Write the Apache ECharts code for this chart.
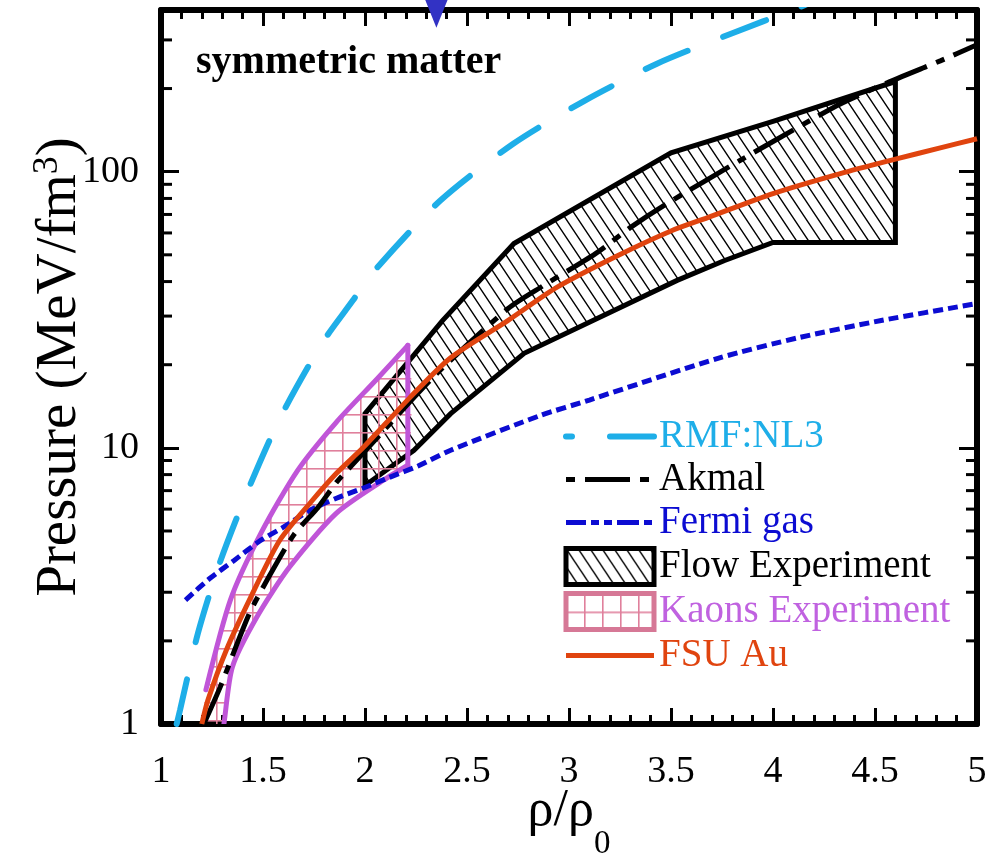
<!DOCTYPE html>
<html>
<head>
<meta charset="utf-8">
<script src="https://cdn.jsdelivr.net/npm/echarts@6/dist/echarts.min.js"></script>
<style>
  html, body { margin: 0; padding: 0; background: #fff; }
  #chart { width: 986px; height: 856px; }
</style>
</head>
<body>
<div id="chart"></div>
<script>
// Pressure of symmetric nuclear matter vs. density (rho / rho0), MeV/fm^3

// x tick labels (bottom axis)
const xTicks = [1, 1.5, 2, 2.5, 3, 3.5, 4, 4.5, 5];
// y tick labels (log axis) and minor tick values (2..9 per decade)
const yTicks = [1, 10, 100];
const yMinorTicks = [2, 3, 4, 5, 6, 7, 8, 9, 20, 30, 40, 50, 60, 70, 80, 90, 200, 300];

// RMF:NL3
const nl3 = [[1.077, 1.0], [1.093, 1.12], [1.181, 2.13], [1.289, 3.85], [1.426, 7.02], [1.583, 12.8],
  [1.789, 23.9], [1.941, 34.2], [2.034, 42.8], [2.368, 78.5], [2.725, 126], [3.078, 181],
  [3.431, 246], [3.794, 316], [4.108, 388], [4.25, 430]];
// Akmal
const akmal = [[1.21, 1.0], [1.29, 1.36], [1.43, 2.48], [1.52, 3.32], [1.65, 4.83], [1.77, 6.09],
  [1.86, 7.5], [1.99, 9.55], [2.35, 18.5], [2.70, 31.9], [2.87, 38.5], [3.13, 50.5], [3.30, 62.7],
  [3.48, 76.6], [3.84, 110], [4.20, 156], [4.33, 176], [4.56, 210], [4.82, 252], [5.0, 288]];
// Fermi gas
const fermi = [[1.12, 2.81], [1.24, 3.37], [1.36, 3.92], [1.49, 4.63], [1.60, 5.16], [1.73, 5.94],
  [1.86, 6.57], [1.99, 7.14], [2.12, 7.82], [2.26, 8.6], [2.42, 9.8], [2.86, 13.1], [3.10, 14.9],
  [3.73, 21.1], [4.13, 25.1], [4.53, 28.9], [5.0, 33.3]];
// FSU Au
const fsu = [[1.20, 1.0], [1.23, 1.22], [1.32, 1.85], [1.44, 2.88], [1.58, 4.6], [1.73, 6.3],
  [1.86, 8.09], [1.99, 10.0], [2.22, 15.2], [2.42, 21.2], [2.70, 28.9], [2.94, 38.1], [3.24, 49.7],
  [3.50, 61], [3.68, 68.2], [4.0, 83.3], [4.33, 98.4], [4.60, 111], [4.82, 122], [5.0, 131.6]];
// Flow experiment band: upper edge (left to right), lower edge (right to left)
const flowUpper = [[2.0, 13.3], [2.38, 28.9], [2.73, 54.9], [3.5, 117], [4.0, 152], [4.6, 212]];
const flowLower = [[4.6, 55.4], [4.0, 55.4], [3.76, 47.6], [3.53, 40.4], [2.78, 22.0], [2.42, 13.3],
  [2.24, 9.8], [2.0, 7.31]];
// Kaons experiment band: upper edge (left to right), lower edge (right to left)
const kaonsUpper = [[1.22, 1.33], [1.34, 2.81], [1.49, 4.91], [1.67, 8.29], [1.86, 12.4],
  [2.06, 17.8], [2.21, 23.5]];
const kaonsLower = [[2.21, 8.65], [2.09, 7.63], [1.86, 5.80], [1.63, 3.70], [1.47, 2.44],
  [1.35, 1.61], [1.31, 1.02], [1.30, 0.9]];
const kaonsClose = [[1.22, 0.9]];
// marker on the top axis
const marker = [[2.35, 376]];

const serif = 'Liberation Serif';
const C = {
  nl3: '#1eaee8', akmal: '#000000', fermi: '#0c0cd2', fsu: '#e0440f',
  kaonLine: '#c055d8', kaonGrid: '#e0809c', kaonBox: '#d67896', kaonText: '#c062e0',
  marker: '#3232c4'
};
const LS = {
  nl3: { color: C.nl3, width: 6, type: [46, 38], cap: 'round' },
  akmal: { color: '#000', width: 5, type: [45, 10, 9, 10] },
  fermi: { color: C.fermi, width: 5, type: [10, 5] },
  fsu: { color: C.fsu, width: 5 }
};
const SMOOTH = 0.25;

function hatchPattern() {
  const c = document.createElement('canvas');
  const W = 12, H = 18;
  c.width = W; c.height = H;
  const g = c.getContext('2d');
  g.strokeStyle = '#000';
  g.lineWidth = 1.4;
  g.beginPath();
  for (let k = -1; k <= 1; k++) {
    g.moveTo(k * W - W, -H);
    g.lineTo(k * W + 2 * W, 2 * H);
  }
  g.stroke();
  return { image: c, repeat: 'repeat' };
}
function gridPattern(color) {
  const c = document.createElement('canvas');
  const S = 18;
  c.width = S; c.height = S;
  const g = c.getContext('2d');
  g.fillStyle = color;
  g.fillRect(0, 0, S, 1.6);
  g.fillRect(0, 0, 1.6, S);
  return { image: c, repeat: 'repeat' };
}
const hatch = hatchPattern();
const grid = gridPattern(C.kaonGrid);

// Flow band: straight-edged closed outline
function flowRenderer(params, api) {
  if (params.dataIndex !== 0) return null;
  const pts = flowUpper.concat(flowLower).map(p => api.coord(p));
  return {
    type: 'group',
    children: [
      { type: 'polygon', shape: { points: pts }, style: { fill: hatch, stroke: null } },
      { type: 'polygon', shape: { points: pts },
        style: { fill: null, stroke: '#000', lineWidth: 5, lineJoin: 'miter' } }
    ]
  };
}
// Kaons band: curved upper/lower edges joined by a vertical right edge, open at the bottom left
function kaonsRenderer(params, api) {
  if (params.dataIndex !== 0) return null;
  const up = kaonsUpper.map(p => api.coord(p));
  const lo = kaonsLower.map(p => api.coord(p));
  const fillPts = up.concat(lo, kaonsClose.map(p => api.coord(p)));
  const st = { fill: null, stroke: C.kaonLine, lineWidth: 5, lineCap: 'round', lineJoin: 'round' };
  return {
    type: 'group',
    children: [
      { type: 'polygon', shape: { points: fillPts, smooth: SMOOTH }, style: { fill: grid, stroke: null } },
      { type: 'polyline', shape: { points: up, smooth: SMOOTH }, style: st },
      { type: 'polyline', shape: { points: [up[up.length - 1], lo[0]] }, style: st },
      { type: 'polyline', shape: { points: lo, smooth: SMOOTH }, style: st }
    ]
  };
}

function minorTickRenderer(params, api) {
  const p = api.coord([1, api.value(1)]);
  const cs = params.coordSys;
  const st = { stroke: '#000', lineWidth: 3 };
  return {
    type: 'group',
    children: [
      { type: 'line', shape: { x1: cs.x, y1: p[1], x2: cs.x + 11, y2: p[1] }, style: st },
      { type: 'line', shape: { x1: cs.x + cs.width - 11, y1: p[1], x2: cs.x + cs.width, y2: p[1] }, style: st }
    ]
  };
}

const xCommon = {
  type: 'value', min: 1, max: 5, interval: 0.5,
  axisLine: { show: true, onZero: false, lineStyle: { color: '#000', width: 6 } },
  axisTick: { show: true, inside: true, length: 16, lineStyle: { color: '#000', width: 3 } },
  minorTick: { show: true, splitNumber: 5, length: 9, lineStyle: { color: '#000', width: 3 } },
  splitLine: { show: false }, minorSplitLine: { show: false }
};
const yCommon = {
  type: 'log', logBase: 10, min: 1, max: 385,
  axisLine: { show: true, onZero: false, lineStyle: { color: '#000', width: 6 } },
  axisTick: { show: true, inside: true, length: 18, lineStyle: { color: '#000', width: 3 } },
  splitLine: { show: false }
};

const legendText = (color) => ({ color: color, fontFamily: serif, fontSize: 39 });
const hiddenSymbol = { opacity: 0, borderWidth: 0 };

const chart = echarts.init(document.getElementById('chart'), null, { renderer: 'canvas' });
chart.setOption({
  animation: false,
  backgroundColor: '#fff',
  textStyle: { fontFamily: serif },
  grid: { left: 161, right: 9, top: 10, bottom: 132, containLabel: false, outerBoundsMode: 'none' },
  title: {
    text: 'symmetric matter', left: 191, top: 38,
    textStyle: { fontFamily: serif, fontWeight: 'bold', fontSize: 40, color: '#000' }
  },
  legend: {
    orient: 'vertical', left: 563, top: 417, padding: 0,
    itemWidth: 88, itemHeight: 36, itemGap: 4, selectedMode: false,
    textStyle: legendText('#000'),
    data: [
      { name: 'RMF:NL3', textStyle: legendText(C.nl3),
        lineStyle: Object.assign({}, LS.nl3, { dashOffset: 40 }), itemStyle: hiddenSymbol },
      { name: 'Akmal', textStyle: legendText('#000'),
        lineStyle: Object.assign({}, LS.akmal, { dashOffset: 55 }), itemStyle: hiddenSymbol },
      { name: 'Fermi gas', textStyle: legendText(C.fermi),
        lineStyle: Object.assign({}, LS.fermi, { type: [22, 5, 8, 5, 8, 5] }), itemStyle: hiddenSymbol },
      { name: 'Flow Experiment', icon: 'rect', textStyle: legendText('#000'),
        itemStyle: { color: hatch, borderColor: '#000', borderWidth: 5 } },
      { name: 'Kaons Experiment', icon: 'rect', textStyle: legendText(C.kaonText),
        itemStyle: { color: grid, borderColor: C.kaonBox, borderWidth: 5 } },
      { name: 'FSU Au', textStyle: legendText(C.fsu), lineStyle: LS.fsu, itemStyle: hiddenSymbol }
    ]
  },
  xAxis: [
    Object.assign({}, xCommon, {
      position: 'bottom',
      axisLabel: {
        margin: 29, fontSize: 38, fontFamily: serif, color: '#000',
        formatter: v => (xTicks.indexOf(v) >= 0 ? String(v) : '')
      },
      name: '{a|ρ/ρ}{b|0}', nameLocation: 'middle', nameGap: 37, nameMoveOverlap: false,
      nameTextStyle: {
        color: '#000', fontFamily: serif,
        rich: {
          a: { fontSize: 52, fontFamily: serif, color: '#000', lineHeight: 52 },
          b: { fontSize: 33, fontFamily: serif, color: '#000', lineHeight: 100, verticalAlign: 'bottom' }
        }
      }
    }),
    Object.assign({}, xCommon, { position: 'top', axisLabel: { show: false } })
  ],
  yAxis: [
    Object.assign({}, yCommon, {
      position: 'left',
      axisLabel: {
        margin: 22, fontSize: 38, fontFamily: serif, color: '#000', showMaxLabel: false,
        formatter: v => (yTicks.indexOf(Math.round(v)) >= 0 ? String(Math.round(v)) : '')
      },
      name: '{a|Pressure (MeV/fm}{b|3}{a|)}', nameLocation: 'middle', nameGap: 71, nameMoveOverlap: false,
      nameTextStyle: {
        color: '#000', fontFamily: serif,
        rich: {
          a: { fontSize: 57, fontFamily: serif, color: '#000', lineHeight: 60 },
          b: { fontSize: 36, fontFamily: serif, color: '#000', lineHeight: 60, verticalAlign: 'top' }
        }
      }
    }),
    Object.assign({}, yCommon, { position: 'right', axisLabel: { show: false } })
  ],
  series: [
    {
      name: 'Flow Experiment', type: 'custom', clip: true, z: 1,
      itemStyle: { color: '#000' }, data: flowUpper, renderItem: flowRenderer
    },
    {
      name: 'Kaons Experiment', type: 'custom', clip: true, z: 2,
      itemStyle: { color: C.kaonBox }, data: kaonsUpper, renderItem: kaonsRenderer
    },
    {
      name: 'Fermi gas', type: 'line', data: fermi, symbol: 'none', smooth: SMOOTH, z: 3,
      itemStyle: { color: C.fermi }, lineStyle: LS.fermi
    },
    {
      name: 'RMF:NL3', type: 'line', data: nl3, symbol: 'none', smooth: SMOOTH, z: 4,
      itemStyle: { color: C.nl3 }, lineStyle: LS.nl3
    },
    {
      name: 'Akmal', type: 'line', data: akmal, symbol: 'none', smooth: SMOOTH, z: 4,
      itemStyle: { color: '#000' }, lineStyle: LS.akmal
    },
    {
      name: 'FSU Au', type: 'line', data: fsu, symbol: 'none', smooth: SMOOTH, z: 5,
      itemStyle: { color: C.fsu }, lineStyle: LS.fsu
    },
    {
      type: 'scatter', data: marker, symbol: 'triangle', symbolRotate: 180, symbolSize: [24, 30],
      clip: false, z: 6, itemStyle: { color: C.marker, opacity: 1 }, silent: true
    },
    {
      type: 'custom', data: yMinorTicks.map(v => [1, v]), renderItem: minorTickRenderer,
      clip: false, z: 10, silent: true
    }
  ]
});
</script>
</body>
</html>
